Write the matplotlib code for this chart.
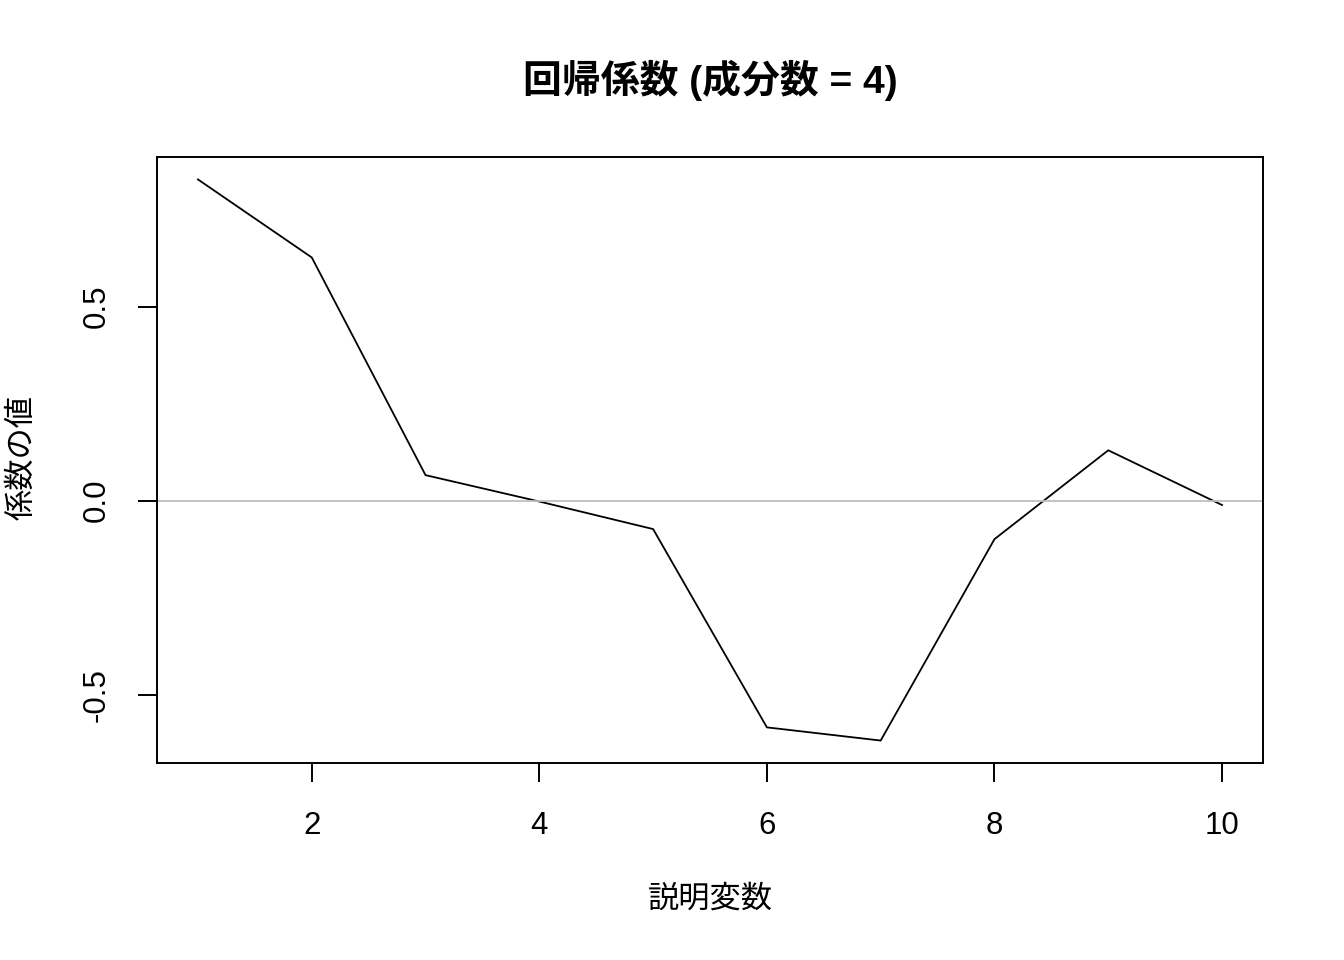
import matplotlib
matplotlib.use("Agg")
import matplotlib.pyplot as plt

# regression coefficients
variables = [1, 2, 3, 4, 5, 6, 7, 8, 9, 10]
coefs = [0.828, 0.627, 0.066, -0.002, -0.073, -0.584, -0.618, -0.099, 0.130, -0.011]
xticks = [2, 4, 6, 8, 10]
yticks = [-0.5, 0.0, 0.5]

plt.rcParams['font.family'] = ['Liberation Sans', 'Noto Sans CJK JP']

fig = plt.figure(figsize=(13.44, 9.6), dpi=100)
ax = fig.add_axes([157 / 1344, 1 - 763 / 960, (1263 - 157) / 1344, (763 - 157) / 960])

ax.plot(variables, coefs, color="black", linewidth=1.3)
ax.axhline(0, color="#BEBEBE", linewidth=1.3)

pad_x = (max(variables) - min(variables)) * 0.04
pad_y = (max(coefs) - min(coefs)) * 0.04
ax.set_xlim(min(variables) - pad_x, max(variables) + pad_x)
ax.set_ylim(min(coefs) - pad_y, max(coefs) + pad_y)

ax.set_xticks(xticks)
ax.set_xticklabels([str(t) for t in xticks])
ax.set_yticks(yticks)
ax.set_yticklabels(["-0.5", "0.0", "0.5"], rotation=90, va="center")
ax.tick_params(axis="both", direction="out", length=13.7, width=1.4,
               labelsize=22.5, color="black")
ax.tick_params(axis="x", pad=21)
ax.tick_params(axis="y", pad=19)
for sp in ax.spines.values():
    sp.set_linewidth(1.4)

fig.text(710 / 1344, 1 - 80 / 960, "回帰係数 (成分数 = 4)", ha="center", va="center",
         fontsize=28, fontweight="bold")
fig.text(710 / 1344, 1 - 900 / 960, "説明変数", ha="center", va="center", fontsize=22.5)
fig.text(22 / 1344, 1 - 458 / 960, "係数の値", ha="center", va="center",
         fontsize=22.5, rotation=90)

fig.savefig("out.png", dpi=100)
